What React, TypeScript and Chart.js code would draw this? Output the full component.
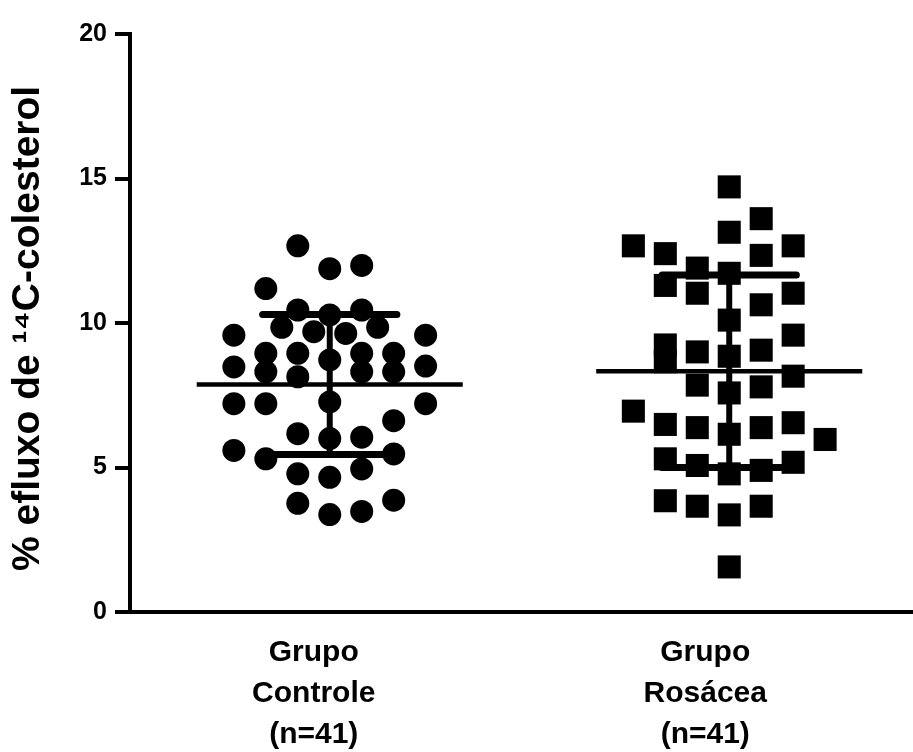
import React, { useEffect, useRef } from "react";
import { Chart, registerables } from "chart.js";

Chart.register(...registerables);

// ---- data ----
const groupLabels: string[][] = [
  ["Grupo", "Controle", "(n=41)"],
  ["Grupo", "Rosácea", "(n=41)"],
];
const groupCenters = [1, 2];
const groupLabelTicks = [0.96, 1.94];
const yTickValues = [0, 5, 10, 15, 20];

const controlValues = [
  12.67, 11.88, 11.99, 11.19, 10.45, 10.28, 10.45, 9.85, 9.7, 9.64, 9.85, 9.58, 9.58,
  8.95, 8.95, 8.72, 8.95, 8.95, 8.48, 8.51, 8.31, 8.14, 8.31, 8.31, 7.21, 7.21, 7.27,
  7.21, 6.62, 6.17, 6.0, 6.05, 5.59, 5.3, 5.47, 4.78, 4.66, 4.95, 3.76, 3.37, 3.48, 3.87,
];
const controlColumns = [
  -1, 0, 1, -2, -1, 0, 1, -1.5, -0.5, 0.5, 1.5, -3, 3,
  -2, -1, 0, 1, 2, -3, 3, -2, -1, 1, 2, -3, -2, 0,
  3, 2, -1, 0, 1, -3, -2, 2, -1, 0, 1, -1, 0, 1, 2,
];

const rosaceaValues = [
  14.71, 13.61, 13.14, 12.67, 12.4, 12.67, 12.34, 11.9, 11.72, 11.3, 11.03, 11.03, 10.63,
  10.1, 9.58, 9.24, 8.66, 9.0, 8.85, 9.06, 8.16, 7.85, 7.79, 7.58, 6.95, 6.49, 6.38,
  6.15, 6.38, 6.55, 5.97, 5.3, 5.07, 4.78, 4.9, 5.18, 3.85, 3.66, 3.36, 3.66, 1.56,
];
const rosaceaColumns = [
  0, 1, 0, -3, -2, 2, 1, -1, 0, -2, -1, 2, 1,
  0, 2, -2, -2, -1, 0, 1, 2, -1, 1, 0, -3, -2, -1,
  0, 1, 2, 3, -2, -1, 0, 1, 2, -2, -1, 0, 1, 0,
];

const groupMeans = [7.87, 8.33];
const groupSDs = [2.42, 3.33];

// ---- layout constants (not data) ----
const W = 913;
const H = 752;
const COLUMN_STEP = 0.08;
const MEAN_HALF = 0.333;
const CAP_HALF = 0.168;
const FONT = '"Liberation Sans", Arial, Helvetica, sans-serif';

function seg(x1: number, y1: number, x2: number, y2: number, width: number, cap: CanvasLineCap) {
  return {
    type: "scatter" as const,
    data: [
      { x: x1, y: y1 },
      { x: x2, y: y2 },
    ],
    showLine: true,
    borderColor: "#000",
    backgroundColor: "#000",
    borderWidth: width,
    borderCapStyle: cap,
    pointRadius: 0,
    pointHoverRadius: 0,
  };
}

export default function App() {
  const ref = useRef<HTMLCanvasElement | null>(null);

  useEffect(() => {
    if (!ref.current) return;

    const summary: any[] = [];
    groupCenters.forEach((c, i) => {
      const m = groupMeans[i];
      const s = groupSDs[i];
      summary.push(seg(c - MEAN_HALF, m, c + MEAN_HALF, m, 4.5, "butt"));
      summary.push(seg(c, m - s, c, m + s, 6, "butt"));
      summary.push(seg(c - CAP_HALF, m + s, c + CAP_HALF, m + s, 7, "round"));
      summary.push(seg(c - CAP_HALF, m - s, c + CAP_HALF, m - s, 7, "round"));
    });

    const chart = new Chart(ref.current, {
      type: "scatter",
      data: {
        datasets: [
          ...summary,
          {
            data: controlValues.map((y, i) => ({ x: groupCenters[0] + controlColumns[i] * COLUMN_STEP, y })),
            pointStyle: "circle",
            pointRadius: 11.5,
            pointHoverRadius: 11.5,
            backgroundColor: "#000",
            borderWidth: 0,
          },
          {
            data: rosaceaValues.map((y, i) => ({ x: groupCenters[1] + rosaceaColumns[i] * COLUMN_STEP, y })),
            pointStyle: "rect",
            pointRadius: 16.3,
            pointHoverRadius: 16.3,
            backgroundColor: "#000",
            borderWidth: 0,
          },
        ],
      },
      options: {
        animation: false,
        responsive: false,
        devicePixelRatio: 1,
        events: [],
        layout: { autoPadding: false, padding: { top: 34, left: 0, right: 0, bottom: 0 } },
        plugins: { legend: { display: false }, tooltip: { enabled: false } },
        scales: {
          x: {
            type: "linear",
            min: 0.5,
            max: 2.46,
            afterBuildTicks: (s: any) => {
              s.ticks = groupLabelTicks.map((v) => ({ value: v }));
            },
            afterFit: (s: any) => {
              s.height = H - 612;
            },
            ticks: {
              autoSkip: false,
              maxRotation: 0,
              minRotation: 0,
              padding: 12,
              color: "#000",
              font: { family: FONT, size: 30, weight: "bold", lineHeight: 1.37 },
              callback: (_v: any, i: number) => groupLabels[i],
            },
            grid: { display: false },
            border: { display: true, color: "#000", width: 4 },
          },
          y: {
            min: 0,
            max: 20,
            afterBuildTicks: (s: any) => {
              s.ticks = yTickValues.map((v) => ({ value: v }));
            },
            afterFit: (s: any) => {
              s.width = 130;
            },
            ticks: {
              padding: 8,
              color: "#000",
              font: { family: FONT, size: 25, weight: "bold" },
            },
            grid: {
              display: true,
              drawOnChartArea: false,
              drawTicks: true,
              tickLength: 15,
              color: "#000",
              lineWidth: 4,
            },
            border: { display: true, color: "#000", width: 4 },
            title: {
              display: true,
              text: "% efluxo de ¹⁴C-colesterol ",
              color: "#000",
              font: { family: FONT, size: 39, weight: "bold", lineHeight: 1.2 },
              padding: { top: 5, bottom: 0 },
            },
          },
        },
      } as any,
    });
    return () => chart.destroy();
  }, []);

  return (
    <div style={{ position: "absolute", left: 0, top: 0, width: W, height: H, background: "#fff", overflow: "hidden" }}>
      <canvas ref={ref} width={W} height={H} style={{ display: "block", width: W, height: H }} />
    </div>
  );
}
